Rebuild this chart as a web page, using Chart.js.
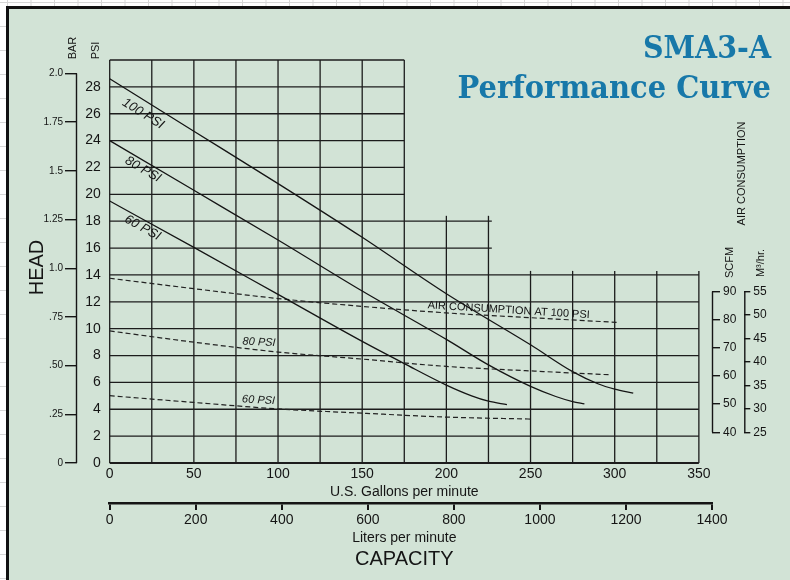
<!DOCTYPE html>
<html>
<head>
<meta charset="utf-8">
<script src="https://cdn.jsdelivr.net/npm/chart.js@4.4.0/dist/chart.umd.min.js"></script>
<style>
  html, body { margin: 0; padding: 0; }
  body {
    width: 790px; height: 580px; overflow: hidden; background: #fff;
    background-image: linear-gradient(to right, #d6d6d6 1px, transparent 1px),
                      linear-gradient(to bottom, #d6d6d6 1px, transparent 1px);
    background-size: 23.5px 24px;
    background-position: 7px 0, 0 2px;
  }
  canvas { position: absolute; left: 0; top: 0; }
</style>
</head>
<body>
<canvas id="curve" width="790" height="580"></canvas>
<script>
// head curves (U.S. gpm -> PSI)
const gpm100 = [0, 50, 100, 150, 200, 250, 275, 290, 300, 311];
const head100 = [28.6, 24.7, 20.8, 16.8, 12.6, 8.8, 6.8, 5.9, 5.5, 5.2];
const gpm80 = [0, 50, 100, 150, 200, 225, 250, 265, 275, 282];
const head80 = [24.0, 20.3, 16.6, 12.8, 9.2, 7.3, 5.7, 4.95, 4.57, 4.4];
const gpm60 = [0, 50, 100, 150, 175, 200, 215, 225, 236];
const head60 = [19.5, 16.05, 12.55, 9.05, 7.4, 5.8, 5.0, 4.6, 4.35];

// air consumption (U.S. gpm -> SCFM)
const airGpm100 = [0, 50, 100, 150, 200, 250, 302];
const air100 = [94.7, 91.0, 87.5, 84.7, 82.4, 80.7, 79.0];
const airGpm80 = [0, 50, 100, 150, 200, 250, 298];
const air80 = [76.0, 72.0, 68.5, 66.0, 63.4, 61.8, 60.4];
const airGpm60 = [0, 50, 100, 150, 200, 250];
const air60 = [53.0, 50.6, 48.3, 46.8, 45.4, 44.7];

// tick labels
const gpmTicks = [0, 50, 100, 150, 200, 250, 300, 350];
const literTicks = [0, 200, 400, 600, 800, 1000, 1200, 1400];
const psiTicks = [0, 2, 4, 6, 8, 10, 12, 14, 16, 18, 20, 22, 24, 26, 28];
const barTicks = [0, 0.25, 0.5, 0.75, 1.0, 1.25, 1.5, 1.75, 2.0];
const barLabels = ["0", ".25", ".50", ".75", "1.0", "1.25", "1.5", "1.75", "2.0"];
const scfmTicks = [40, 50, 60, 70, 80, 90];
const m3Ticks = [25, 30, 35, 40, 45, 50, 55];

// stepped grid
const gridX = [0, 25, 50, 75, 100, 125, 150, 175, 200, 225, 250, 275, 300, 325, 350];
const gridY = [0, 2, 4, 6, 8, 10, 12, 14, 16, 18, 20, 22, 24, 26, 28, 30];
const gridXTop = (g) => (g <= 175 ? 30 : g <= 225 ? 18.4 : 14.3);
const gridYEnd = (p) => (p <= 14 ? 350 : p <= 18 ? 227 : 175);

const INK = "#151515";
const SANS = '"Liberation Sans", Arial, sans-serif';

const pts = (xs, ys) => xs.map((x, i) => ({ x: x, y: ys[i] }));
const fixTicks = (list) => (scale) => { scale.ticks = list.map((v) => ({ value: v })); };
const plain = (v) => String(v);

const headLine = (label, xs, ys) => ({
  label: label, data: pts(xs, ys), yAxisID: "y",
  borderColor: INK, borderWidth: 1.3, pointRadius: 0, cubicInterpolationMode: "monotone",
});
const airLine = (label, xs, ys) => ({
  label: label, data: pts(xs, ys), yAxisID: "yScfm",
  borderColor: "#222", borderWidth: 1.2, borderDash: [5, 3], pointRadius: 0,
  cubicInterpolationMode: "monotone",
});

const panel = {
  id: "panel",
  beforeDraw(chart) {
    const ctx = chart.ctx;
    ctx.save();
    ctx.fillStyle = "#d2e3d6";
    ctx.fillRect(9, 9, 781, 571);
    ctx.fillStyle = "#111";
    ctx.fillRect(6, 6, 3, 574);
    ctx.fillRect(6, 6, 784, 3);
    ctx.restore();
  },
};

const stepGrid = {
  id: "stepGrid",
  beforeDatasetsDraw(chart) {
    const { ctx, scales } = chart;
    const x = scales.x, y = scales.y;
    ctx.save();
    ctx.strokeStyle = "#1c1c1c";
    ctx.lineWidth = 1.3;
    gridX.forEach((g) => {
      ctx.beginPath();
      ctx.moveTo(x.getPixelForValue(g), y.getPixelForValue(0));
      ctx.lineTo(x.getPixelForValue(g), y.getPixelForValue(gridXTop(g)));
      ctx.stroke();
    });
    gridY.forEach((p) => {
      ctx.lineWidth = p === 0 ? 1.8 : 1.3;
      ctx.beginPath();
      ctx.moveTo(x.getPixelForValue(0), y.getPixelForValue(p));
      ctx.lineTo(x.getPixelForValue(gridYEnd(p)), y.getPixelForValue(p));
      ctx.stroke();
    });
    ctx.restore();
  },
};

// curve labels placed in data space
const curveLabels = [
  { text: "100 PSI", gpm: 19.8, psi: 26.0, angle: 32, size: 13 },
  { text: "80 PSI", gpm: 19.8, psi: 21.85, angle: 30, size: 13 },
  { text: "60 PSI", gpm: 19.5, psi: 17.5, angle: 29, size: 13 },
  { text: "AIR CONSUMPTION AT 100 PSI", gpm: 237, psi: 11.37, angle: 3.5, size: 11, upright: true },
  { text: "80 PSI", gpm: 88.7, psi: 8.99, angle: 3, size: 11 },
  { text: "60 PSI", gpm: 88.4, psi: 4.68, angle: 3, size: 11 },
];

function vText(ctx, text, cx, cy, font) {
  ctx.save();
  ctx.translate(cx, cy);
  ctx.rotate(-Math.PI / 2);
  ctx.font = font;
  ctx.textAlign = "center";
  ctx.textBaseline = "middle";
  ctx.fillText(text, 0, 0);
  ctx.restore();
}

function fitText(ctx, text, right, base, width, font) {
  ctx.save();
  ctx.font = font;
  const w = ctx.measureText(text).width;
  ctx.translate(right - width, base);
  ctx.scale(width / w, 1);
  ctx.textAlign = "left";
  ctx.textBaseline = "alphabetic";
  ctx.fillText(text, 0, 0);
  ctx.restore();
}

const decor = {
  id: "decor",
  afterDraw(chart) {
    const { ctx, scales } = chart;
    const s = scales;
    ctx.save();
    ctx.strokeStyle = INK;
    ctx.lineWidth = 1.4;
    const vline = (px, a, b) => { ctx.beginPath(); ctx.moveTo(px, a); ctx.lineTo(px, b); ctx.stroke(); };
    vline(s.yBar.right - 0.5, s.yBar.getPixelForValue(0), s.yBar.getPixelForValue(2.0));
    vline(s.yScfm.left + 0.5, s.yScfm.getPixelForValue(40), s.yScfm.getPixelForValue(90));
    vline(s.yM3.left + 0.5, s.yM3.getPixelForValue(25), s.yM3.getPixelForValue(55));

    ctx.fillStyle = INK;
    curveLabels.forEach((l) => {
      ctx.save();
      ctx.translate(s.x.getPixelForValue(l.gpm), s.y.getPixelForValue(l.psi));
      ctx.rotate((l.angle * Math.PI) / 180);
      ctx.font = (l.upright ? "" : "italic ") + l.size + "px " + SANS;
      ctx.textAlign = "center";
      ctx.textBaseline = "middle";
      ctx.fillText(l.text, 0, 0);
      ctx.restore();
    });

    vText(ctx, "HEAD", 37.5, 267.5, "20px " + SANS);
    vText(ctx, "BAR", 73, 48, "11px " + SANS);
    vText(ctx, "PSI", 95.5, 50.5, "11px " + SANS);
    vText(ctx, "AIR CONSUMPTION", 742, 173.5, "11px " + SANS);
    vText(ctx, "SCFM", 729.5, 262.5, "11px " + SANS);
    vText(ctx, "M\u00B3/hr.", 760.5, 263, "11px " + SANS);

    const mid = (s.x.getPixelForValue(0) + s.x.getPixelForValue(350)) / 2;
    ctx.textAlign = "center";
    ctx.textBaseline = "alphabetic";
    ctx.font = "14px " + SANS;
    ctx.fillText("U.S. Gallons per minute", mid, 496);
    ctx.fillText("Liters per minute", mid, 542);
    ctx.font = "20px " + SANS;
    ctx.fillText("CAPACITY", mid, 565);

    ctx.fillStyle = "#1778a9";
    fitText(ctx, "SMA3-A", 771, 57.5, 128, 'bold 31px "DejaVu Serif"');
    fitText(ctx, "Performance Curve", 771, 98, 313.5, 'bold 31px "DejaVu Serif"');
    ctx.restore();
  },
};

new Chart(document.getElementById("curve"), {
  type: "line",
  data: {
    datasets: [
      headLine("100 PSI", gpm100, head100),
      headLine("80 PSI", gpm80, head80),
      headLine("60 PSI", gpm60, head60),
      airLine("Air 100 PSI", airGpm100, air100),
      airLine("Air 80 PSI", airGpm80, air80),
      airLine("Air 60 PSI", airGpm60, air60),
    ],
  },
  options: {
    responsive: false,
    animation: false,
    layout: { padding: { left: 0, right: 0, top: 60, bottom: 47 } },
    plugins: { legend: { display: false }, tooltip: { enabled: false } },
    scales: {
      x: {
        type: "linear", position: "bottom", weight: 0, min: 0, max: 357.8,
        afterBuildTicks: fixTicks(gpmTicks),
        afterFit: (sc) => { sc.height = 40; },
        grid: { display: false, drawTicks: false, tickLength: 0 },
        border: { display: false },
        ticks: { padding: 3, color: INK, font: { family: SANS, size: 14 }, maxRotation: 0, autoSkip: false,
                 callback: plain },
      },
      x2: {
        type: "linear", position: "bottom", weight: 1, min: 0, max: 1400,
        afterBuildTicks: fixTicks(literTicks),
        afterFit: (sc) => { sc.height = 30; },
        grid: { drawOnChartArea: false, drawTicks: true, tickLength: 7, lineWidth: 2, color: INK },
        border: { display: true, width: 2.5, color: INK },
        ticks: { padding: 2, color: INK, font: { family: SANS, size: 14 }, maxRotation: 0, autoSkip: false,
                 callback: plain },
      },
      y: {
        type: "linear", position: "left", weight: 0, min: 0, max: 30,
        afterBuildTicks: fixTicks(psiTicks),
        afterFit: (sc) => { sc.width = 32.7; },
        grid: { display: false, drawTicks: false, tickLength: 0 },
        border: { display: false },
        ticks: { padding: 9, color: INK, font: { family: SANS, size: 14 }, autoSkip: false },
      },
      yBar: {
        type: "linear", position: "left", weight: 1, min: 0, max: 30 / 14.5,
        afterBuildTicks: fixTicks(barTicks),
        afterFit: (sc) => { sc.width = 77; },
        grid: { drawOnChartArea: false, drawTicks: true, tickLength: 12, lineWidth: 1.4, color: INK },
        border: { display: false },
        ticks: { padding: 2, color: INK, font: { family: SANS, size: 10 }, autoSkip: false,
                 callback: (v, i) => barLabels[i] },
      },
      yScfm: {
        type: "linear", position: "right", weight: 0, min: 29.1, max: 172.2,
        afterBuildTicks: fixTicks(scfmTicks),
        afterFit: (sc) => { sc.width = 32.3; },
        grid: { drawOnChartArea: false, drawTicks: true, tickLength: 8, lineWidth: 1.4, color: INK },
        border: { display: false },
        ticks: { padding: 3, color: INK, font: { family: SANS, size: 12 }, autoSkip: false },
      },
      yM3: {
        type: "linear", position: "right", weight: 1, min: 18.45, max: 104.3,
        afterBuildTicks: fixTicks(m3Ticks),
        afterFit: (sc) => { sc.width = 45.7; },
        grid: { drawOnChartArea: false, drawTicks: true, tickLength: 6, lineWidth: 1.4, color: INK },
        border: { display: false },
        ticks: { padding: 3, color: INK, font: { family: SANS, size: 12 }, autoSkip: false },
      },
    },
  },
  plugins: [panel, stepGrid, decor],
});
</script>
</body>
</html>
